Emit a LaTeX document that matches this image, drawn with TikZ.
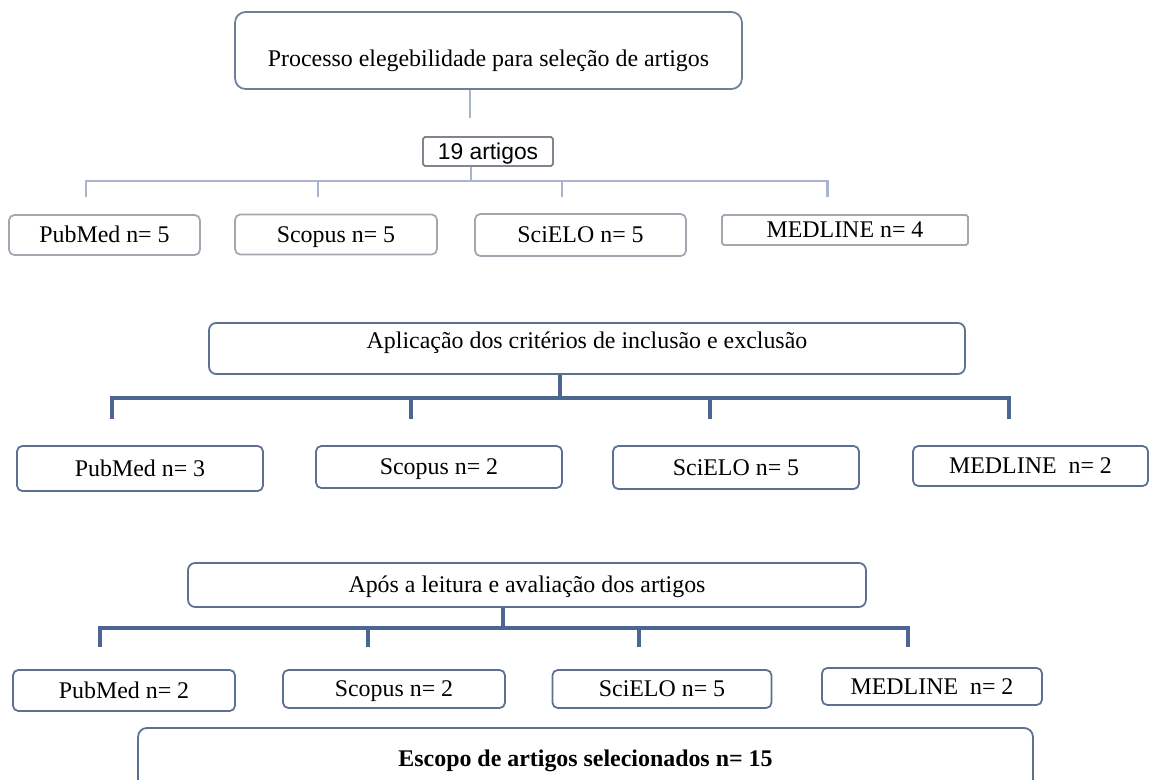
\documentclass[tikz,border=0pt]{standalone}
\usepackage{fontspec}
\setmainfont{Liberation Serif}
\newfontfamily\arialfont{Liberation Sans}
\definecolor{bordatopo}{HTML}{6E7F99}
\definecolor{bordaclara}{HTML}{A3A7B0}
\definecolor{bordacinza}{HTML}{80868F}
\definecolor{bordaescura}{HTML}{5C7090}
\definecolor{linhaclara}{HTML}{A9B5CF}
\definecolor{linhaescura}{HTML}{4D6591}

\begin{document}
\begin{tikzpicture}[x=0.02cm,y=-0.02cm,
  caixa/.style={draw=#1,line width=1pt,rounded corners=3pt,inner sep=0pt,
    text height=10pt,text depth=1pt,font=\fontsize{13.6}{16}\selectfont},
  fio1/.style={line width=1.7pt,linhaclara},
  fio2/.style={line width=2.8pt,linhaescura}]
  \useasboundingbox[fill=white] (0,0) rectangle (1153,780);

  % topo
  \node[caixa=bordatopo,rounded corners=6pt,text height=19pt,text depth=0.3pt,
    minimum width=10.14cm,minimum height=1.54cm] (topo) at (488.5,50.5)
    {Processo elegebilidade para sele\c{c}\~ao de artigos};
  \node[caixa=bordacinza,rounded corners=1pt,minimum width=2.6cm,minimum height=0.58cm,
    font=\arialfont\fontsize{13}{15}\selectfont] (n19) at (488,151.5) {19 artigos};
  \coordinate (j0) at (470,118);
  \draw[fio1] (topo.south -| j0) -- (j0);

  % primeira linha de bases
  \node[caixa=bordaclara,minimum width=3.82cm,minimum height=0.8cm] (pub1) at (104.5,235) {PubMed n= 5};
  \node[caixa=bordaclara,minimum width=4.04cm,minimum height=0.8cm] (sco1) at (336,234.5) {Scopus n= 5};
  \node[caixa=bordaclara,minimum width=4.22cm,minimum height=0.84cm] (sci1) at (580.5,235) {SciELO n= 5};
  \node[caixa=bordaclara,rounded corners=1pt,minimum width=4.92cm,minimum height=0.6cm] (med1) at (845,230) {MEDLINE n= 4};
  \coordinate (j1) at (471,181);
  \draw[fio1] (n19.south -| j1) -- (j1);
  \draw[fio1] (86,197) -- (86,181) -- (827,181) -- (827,197);
  \foreach \x in {318,562} \draw[fio1] (\x,181) -- (\x,197);

  % criterios
  \node[caixa=bordaescura,rounded corners=4pt,text height=6pt,text depth=6pt,
    minimum width=15.12cm,minimum height=1.02cm] (aplic) at (587,348.5)
    {Aplica\c{c}\~ao dos crit\'erios de inclus\~ao e exclus\~ao};
  \node[caixa=bordaescura,minimum width=4.92cm,minimum height=0.9cm] (pub2) at (140,468.5) {PubMed n= 3};
  \node[caixa=bordaescura,minimum width=4.92cm,minimum height=0.84cm] (sco2) at (439,467) {Scopus n= 2};
  \node[caixa=bordaescura,minimum width=4.92cm,minimum height=0.86cm] (sci2) at (736,467.5) {SciELO n= 5};
  \node[caixa=bordaescura,minimum width=4.7cm,minimum height=0.8cm] (med2) at (1030.5,466) {MEDLINE\ \ n= 2};
  \coordinate (j2) at (560,398);
  \draw[fio2] (aplic.south -| j2) -- (j2);
  \draw[fio2] (112,419) -- (112,398) -- (1009,398) -- (1009,419);
  \foreach \x in {411,710} \draw[fio2] (\x,398) -- (\x,419);

  % leitura
  \node[caixa=bordaescura,rounded corners=4pt,minimum width=13.56cm,minimum height=0.88cm] (apos) at (527,585)
    {Ap\'os a leitura e avalia\c{c}\~ao dos artigos};
  \node[caixa=bordaescura,minimum width=4.44cm,minimum height=0.82cm] (pub3) at (124,690.5) {PubMed n= 2};
  \node[caixa=bordaescura,minimum width=4.44cm,minimum height=0.76cm] (sco3) at (394,689) {Scopus n= 2};
  \node[caixa=bordaescura,minimum width=4.38cm,minimum height=0.76cm] (sci3) at (662,689) {SciELO n= 5};
  \node[caixa=bordaescura,minimum width=4.4cm,minimum height=0.74cm] (med3) at (932,686.5) {MEDLINE\ \ n= 2};
  \coordinate (j3) at (503,628);
  \draw[fio2] (apos.south -| j3) -- (j3);
  \draw[fio2] (100,647) -- (100,628) -- (908,628) -- (908,647);
  \foreach \x in {368,639} \draw[fio2] (\x,628) -- (\x,647);

  % escopo final
  \node[caixa=bordaescura,rounded corners=5pt,minimum width=17.9cm,minimum height=1.24cm,
    font=\bfseries\fontsize{13.6}{16}\selectfont] (escopo) at (585.5,759) {Escopo de artigos selecionados n= 15};
\end{tikzpicture}
\end{document}
